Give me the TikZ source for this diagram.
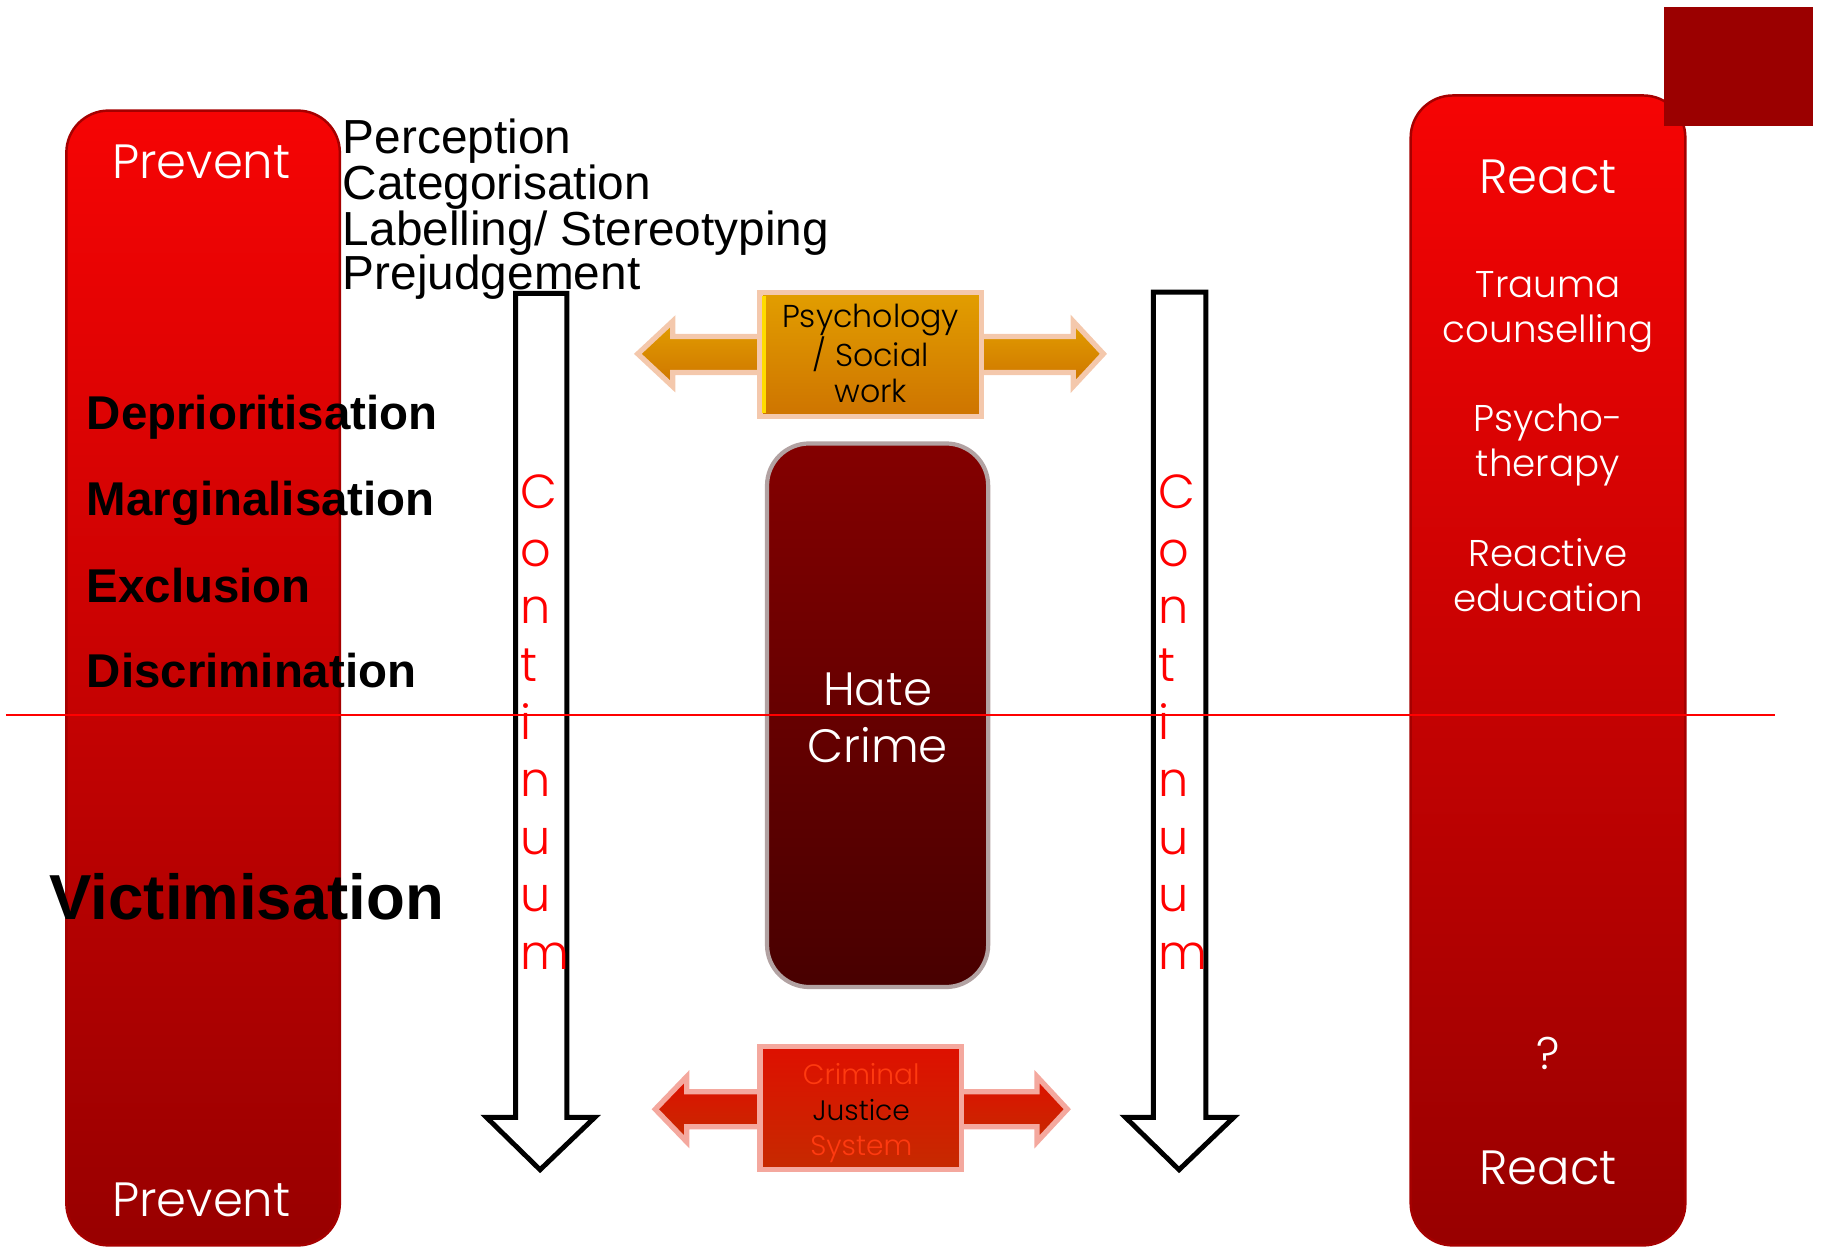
\documentclass[tikz,border=0pt]{standalone}
\usepackage{fontspec}
\setmainfont{Liberation Sans}
\newfontfamily\gothic{Poppins Light}

\definecolor{bartop}{RGB}{246,4,4}
\definecolor{barbot}{RGB}{152,0,0}
\definecolor{baredge}{RGB}{165,0,0}
\definecolor{cornerred}{RGB}{155,0,0}
\definecolor{hatetop}{RGB}{132,0,0}
\definecolor{hatebot}{RGB}{72,0,0}
\definecolor{hateedge}{RGB}{178,162,162}
\definecolor{psytop}{RGB}{226,158,0}
\definecolor{psybot}{RGB}{206,116,0}
\definecolor{psyedge}{RGB}{244,200,172}
\definecolor{psyshine}{RGB}{255,220,0}
\definecolor{cjstop}{RGB}{222,16,0}
\definecolor{cjsbot}{RGB}{198,42,0}
\definecolor{cjsedge}{RGB}{244,168,158}
\definecolor{cjsfaint}{RGB}{255,58,16}

\begin{document}
\begin{tikzpicture}[x=0.011639cm, y=-0.011639cm]
            \tikzstyle{bar} = [draw=baredge, line width=0.7pt, rounded corners=12pt, top color=bartop, bottom color=barbot]
            \tikzstyle{contarrow} = [draw=black, fill=white, line width=1.4pt, line join=miter]
            \tikzstyle{plain} = [anchor=base west, inner sep=0pt, font=\fontsize{13.6}{14}\selectfont]
            \tikzstyle{stage} = [anchor=base west, inner sep=0pt, font=\bfseries\fontsize{13.5}{14}\selectfont]
            \tikzstyle{bartext} = [anchor=base, inner sep=0pt, text=white, font=\gothic\fontsize{13.7}{16}\selectfont]
            \tikzstyle{reactitem} = [anchor=base, inner sep=0pt, text=white, font=\gothic\fontsize{10.6}{13}\selectfont]
            \tikzstyle{contletter} = [anchor=base west, inner sep=0pt, text=red, font=\gothic\fontsize{13.6}{16}\selectfont]
            \useasboundingbox (0,0) rectangle (1568,1077);
            % the two side bars and the corner block
            \draw[bar] (57,95) rectangle (292,1070);
            \draw[bar] (1212,82) rectangle (1448,1070);
            \fill[cornerred] (1430,6) rectangle (1558,108);
            \node[bartext] (prevtop) at (173,153) {Prevent};
            \node[bartext] (prevbot) at (173,1045) {Prevent};
            \node[bartext] (reacttop) at (1330,166) {React};
            \node[reactitem] (trauma) at (1330,256) {Trauma};
            \node[reactitem] (counsel) at (1330,294.5) {counselling};
            \node[reactitem] (psycho) at (1330,371) {Psycho-};
            \node[reactitem] (therapy) at (1330,409.5) {therapy};
            \node[reactitem] (reactive) at (1330,487) {Reactive};
            \node[reactitem] (educ) at (1330,525.5) {education};
            \node[bartext, font=\gothic\fontsize{13}{15}\selectfont] (query) at (1330,919) {?};
            \node[bartext] (reactbot) at (1330,1018) {React};
            % the stages
            \node[plain] (perc) at (294,132) {Perception};
            \node[plain] (categ) at (294,171) {Categorisation};
            \node[plain] (label) at (294,211) {Labelling/ Stereotyping};
            \node[plain] (prejudge) at (294,249) {Prejudgement};
            \node[stage] (deprio) at (74,369) {Deprioritisation};
            \node[stage] (margin) at (74,443) {Marginalisation};
            \node[stage] (exclusion) at (74,518) {Exclusion};
            \node[stage] (discrim) at (74,591) {Discrimination};
            \node[stage, font=\bfseries\fontsize{18.1}{20}\selectfont] (victim) at (42,790) {Victimisation};
            % continuum arrows
            \draw[contarrow] (443,252) -- (487,252) -- (487,960) -- (511,960) -- (464,1005) -- (418,960) -- (443,960) -- cycle;
            \draw[contarrow] (991,251) -- (1036,251) -- (1036,960) -- (1060,960) -- (1013,1005) -- (967,960) -- (991,960) -- cycle;
            \foreach \ch [count=\i from 0] in {C,o,n,t,i,n,u,u,m} {
                \node[contletter] (contL\i) at (447,437+49.5*\i) {\ch};
                \node[contletter] (contR\i) at (995,437+49.5*\i) {\ch};
            }
            % psychology / social work
            \draw[draw=psyedge, line width=1.5pt, top color=psytop, bottom color=psybot, line join=miter]
                (548,304) -- (578,276) -- (578,289) -- (922,289) -- (922,276) -- (948,304)
                -- (922,332) -- (922,320) -- (578,320) -- (578,332) -- cycle;
            \draw[draw=psyedge, line width=1.5pt, top color=psytop, bottom color=psybot] (653,251) rectangle (843,358);
            \draw[psyshine, line width=1.2pt] (656.5,254) -- (656.5,355);
            \node[anchor=base, inner sep=0pt, font=\gothic\fontsize{9}{10}\selectfont] (psy1) at (748,281) {Psychology};
            \node[anchor=base, inner sep=0pt, font=\gothic\fontsize{9}{10}\selectfont] (psy2) at (748,315) {/ Social};
            \node[anchor=base, inner sep=0pt, font=\gothic\fontsize{9}{10}\selectfont] (psy3) at (748,346) {work};
            % criminal justice system
            \draw[draw=cjsedge, line width=1.5pt, top color=cjstop, bottom color=cjsbot, line join=miter]
                (563,953) -- (590,925) -- (590,938) -- (891,938) -- (891,925) -- (917,953)
                -- (891,981) -- (891,968) -- (590,968) -- (590,981) -- cycle;
            \draw[draw=cjsedge, line width=1.5pt, top color=cjstop, bottom color=cjsbot] (653,899) rectangle (826,1005);
            \node[anchor=base, inner sep=0pt, text=cjsfaint, font=\gothic\fontsize{8}{9}\selectfont] (cjs1) at (740,932) {Criminal};
            \node[anchor=base, inner sep=0pt, font=\gothic\fontsize{8}{9}\selectfont] (cjs2) at (740,963) {Justice};
            \node[anchor=base, inner sep=0pt, text=cjsfaint, font=\gothic\fontsize{8}{9}\selectfont] (cjs3) at (740,992.5) {System};
            % hate crime
            \draw[draw=hateedge, line width=1.2pt, rounded corners=12pt, top color=hatetop, bottom color=hatebot] (659,381) rectangle (849,848);
            \node[bartext, font=\gothic\fontsize{13.3}{16}\selectfont] (hate) at (754,606) {Hate};
            \node[bartext, font=\gothic\fontsize{13.3}{16}\selectfont] (crime) at (754,655) {Crime};
            % dividing line
            \coordinate (divL) at (5,614);
            \coordinate (divR) at (1525,614);
            \draw[red, line width=0.65pt] (divL) -- (divR);
\end{tikzpicture}
\end{document}
